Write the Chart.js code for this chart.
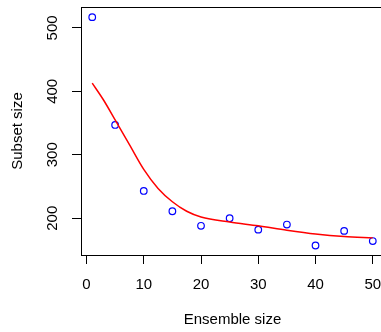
<!DOCTYPE html>
<html>
<head>
<meta charset="utf-8">
<script src="https://cdn.jsdelivr.net/npm/chart.js@4/dist/chart.umd.min.js"></script>
<style>
  html, body { margin: 0; padding: 0; background: #fff; overflow: hidden; }
  canvas { display: block; }
</style>
</head>
<body>
<canvas id="chart" width="384" height="332"></canvas>
<script>
// observed subset sizes
const ensembleSizes = [1, 5, 10, 15, 20, 25, 30, 35, 40, 45, 50];
const subsetSizes = [517, 347, 243, 211, 188, 200, 182, 190, 157, 180, 164];

// fitted smooth curve
const fitX = [1, 3, 5, 7.5, 10, 12.5, 15, 17.5, 20, 25, 30, 35, 40, 45, 50];
const fitY = [413, 386, 355, 316, 277, 247, 226, 211, 202, 194, 188, 181, 175, 171, 169];

const xTicks = [0, 10, 20, 30, 40, 50];
const yTicks = [200, 300, 400, 500];

const font = { family: "'Liberation Sans', Arial, sans-serif", size: 15 };

const boxPlugin = {
  id: "box",
  afterDraw(chart) {
    const { ctx, chartArea: a } = chart;
    ctx.save();
    ctx.strokeStyle = "#000";
    ctx.lineWidth = 1;
    ctx.strokeRect(Math.round(a.left) + 0.5, Math.round(a.top) + 0.5,
      Math.round(a.right - a.left), Math.round(a.bottom - a.top));
    ctx.restore();
  },
};

function noPadding(scale) {
  scale.paddingLeft = 0;
  scale.paddingRight = 0;
  scale.paddingTop = 0;
  scale.paddingBottom = 0;
}

new Chart(document.getElementById("chart"), {
  type: "scatter",
  data: {
    datasets: [
      {
        label: "fit",
        type: "line",
        data: fitX.map((x, i) => ({ x, y: fitY[i] })),
        borderColor: "#ff0000",
        borderWidth: 1.5,
        pointRadius: 0,
        fill: false,
        cubicInterpolationMode: "monotone",
      },
      {
        label: "subset",
        data: ensembleSizes.map((x, i) => ({ x, y: subsetSizes[i] })),
        borderColor: "#0000ff",
        backgroundColor: "rgba(0,0,0,0)",
        borderWidth: 1.2,
        pointRadius: 3.3,
        pointStyle: "circle",
      },
    ],
  },
  options: {
    responsive: false,
    animation: false,
    layout: { autoPadding: false, padding: { top: 7, right: 0, bottom: 0, left: 0 } },
    plugins: { legend: { display: false }, tooltip: { enabled: false } },
    scales: {
      x: {
        type: "linear",
        min: -0.96,
        max: 51.96,
        afterFit(scale) { scale.height = 77; noPadding(scale); },
        afterBuildTicks(scale) { scale.ticks = xTicks.map((v) => ({ value: v })); },
        border: { display: false },
        grid: { drawOnChartArea: false, drawTicks: true, tickLength: 9, color: "#000" },
        ticks: { color: "#000", font, padding: 12, maxRotation: 0, autoSkip: false },
        title: { display: true, text: "Ensemble size", color: "#000", font, padding: { top: 0, bottom: 3 } },
      },
      y: {
        type: "linear",
        min: 142,
        max: 533,
        afterFit(scale) { scale.width = 81; noPadding(scale); },
        afterBuildTicks(scale) { scale.ticks = yTicks.map((v) => ({ value: v })); },
        border: { display: false },
        grid: { drawOnChartArea: false, drawTicks: true, tickLength: 9, color: "#000" },
        ticks: { color: "#000", font, padding: 7, minRotation: 90, maxRotation: 90, crossAlign: "center", autoSkip: false },
        title: { display: true, text: "Subset size", color: "#000", font, padding: { top: 8.5, bottom: 0 } },
      },
    },
  },
  plugins: [boxPlugin],
});
</script>
</body>
</html>
